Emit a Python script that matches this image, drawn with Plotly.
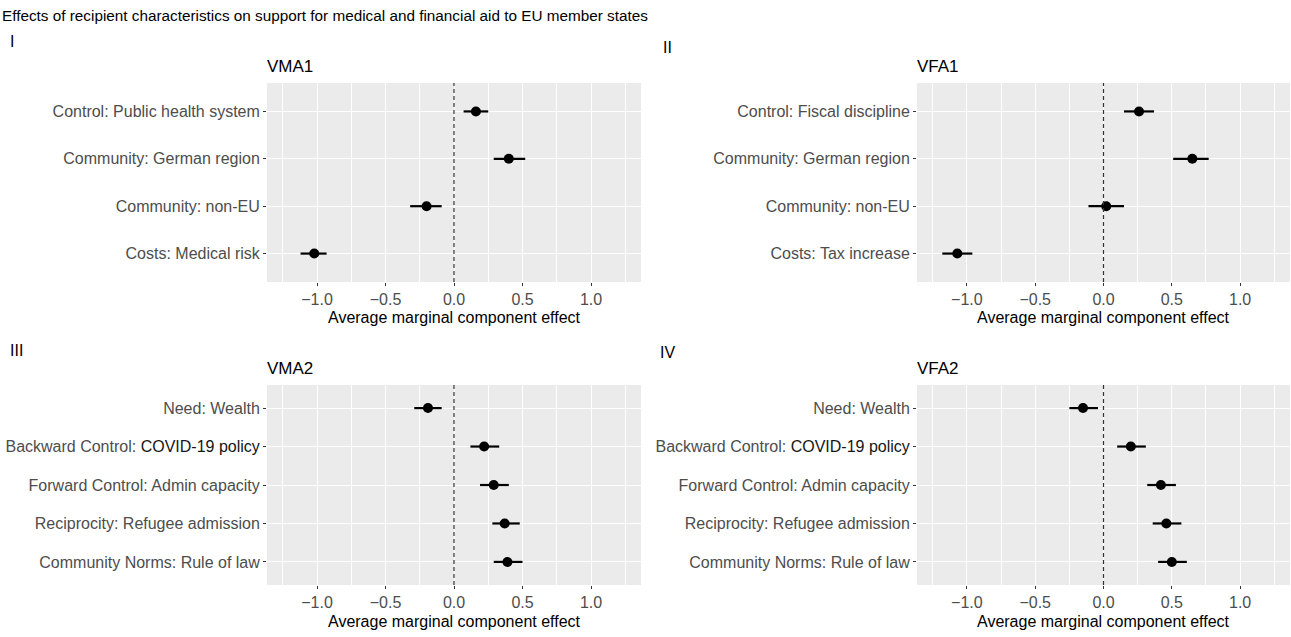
import plotly.graph_objects as go

# ---------------- data ----------------
title_text = "Effects of recipient characteristics on support for medical and financial aid to EU member states"

p1_labels = ["Control: Public health system", "Community: German region", "Community: non-EU", "Costs: Medical risk"]
p1_est = [0.16, 0.40, -0.20, -1.02]
p1_lo = [0.07, 0.29, -0.32, -1.12]
p1_hi = [0.25, 0.52, -0.09, -0.93]

p2_labels = ["Control: Fiscal discipline", "Community: German region", "Community: non-EU", "Costs: Tax increase"]
p2_est = [0.26, 0.65, 0.02, -1.07]
p2_lo = [0.15, 0.51, -0.11, -1.18]
p2_hi = [0.37, 0.77, 0.15, -0.96]

p3_labels = ["Need: Wealth", "Backward Control: COVID-19 policy", "Forward Control: Admin capacity",
             "Reciprocity: Refugee admission", "Community Norms: Rule of law"]
p3_est = [-0.19, 0.22, 0.29, 0.37, 0.39]
p3_lo = [-0.29, 0.12, 0.19, 0.28, 0.29]
p3_hi = [-0.09, 0.33, 0.40, 0.48, 0.50]

p4_labels = ["Need: Wealth", "Backward Control: COVID-19 policy", "Forward Control: Admin capacity",
             "Reciprocity: Refugee admission", "Community Norms: Rule of law"]
p4_est = [-0.15, 0.20, 0.42, 0.46, 0.50]
p4_lo = [-0.25, 0.10, 0.32, 0.36, 0.40]
p4_hi = [-0.04, 0.31, 0.53, 0.57, 0.61]

panel_titles = ["VMA1", "VFA1", "VMA2", "VFA2"]
panel_numerals = ["I", "II", "III", "IV"]
x_ticks = [-1.0, -0.5, 0.0, 0.5, 1.0]
x_tick_text = ["\u22121.0", "\u22120.5", "0.0", "0.5", "1.0"]
x_minor = [-1.25, -0.75, -0.25, 0.25, 0.75, 1.25]
x_title = "Average marginal component effect"

# ---------------- layout geometry ----------------
W, H = 1291, 637
FONT = "Liberation Sans, Arial, sans-serif"

def px_x(v):
    return v / W

def px_y(v):
    return 1 - v / H

def styled(label):
    # the reference renders "COVID-19 policy" slightly darker
    return label.replace("COVID-19 policy", "<span style='color:#151515'>COVID-19 policy</span>")

panels = [
    dict(labels=p1_labels, est=p1_est, lo=p1_lo, hi=p1_hi, x=(267, 641), y=(83, 282)),
    dict(labels=p2_labels, est=p2_est, lo=p2_lo, hi=p2_hi, x=(917, 1290), y=(83, 282)),
    dict(labels=p3_labels, est=p3_est, lo=p3_lo, hi=p3_hi, x=(267, 641), y=(385, 585)),
    dict(labels=p4_labels, est=p4_est, lo=p4_lo, hi=p4_hi, x=(917, 1290), y=(385, 585)),
]

fig = go.Figure()
annotations = []
shapes = []
layout_axes = {}

for i, p in enumerate(panels):
    n = i + 1
    xa = "x" if n == 1 else f"x{n}"
    ya = "y" if n == 1 else f"y{n}"
    xkey = "xaxis" if n == 1 else f"xaxis{n}"
    ykey = "yaxis" if n == 1 else f"yaxis{n}"

    plus = [h - e for h, e in zip(p["hi"], p["est"])]
    minus = [e - l for e, l in zip(p["est"], p["lo"])]
    fig.add_trace(go.Scatter(
        x=p["est"], y=p["labels"], mode="markers",
        marker=dict(color="black", size=10),
        error_x=dict(type="data", array=plus, arrayminus=minus, color="black",
                     thickness=2.2, width=0, symmetric=False),
        xaxis=xa, yaxis=ya, showlegend=False,
    ))

    nl = len(p["labels"])
    layout_axes[xkey] = dict(
        domain=[px_x(p["x"][0]), min(1.0, px_x(p["x"][1]))],
        anchor=ya, range=[-1.365, 1.365], automargin=False,
        tickmode="array", tickvals=x_ticks, ticktext=x_tick_text,
        ticks="outside", ticklen=3, tickcolor="#333333", tickwidth=1,
        tickfont=dict(family=FONT, size=16, color="#4D4D4D"),
        showgrid=True, gridcolor="white", gridwidth=1.1,
        minor=dict(tickmode="array", tickvals=x_minor, showgrid=True,
                   gridcolor="white", gridwidth=0.5, ticklen=0),
        zeroline=False, showline=False,
    )
    layout_axes[ykey] = dict(
        domain=[px_y(p["y"][1]), px_y(p["y"][0])],
        anchor=xa, type="category", automargin=False,
        categoryorder="array", categoryarray=p["labels"],
        tickmode="array", tickvals=p["labels"], ticktext=[styled(s) for s in p["labels"]],
        range=[nl - 1 + 0.6, -0.6],
        ticks="outside", ticklen=3, tickcolor="#333333", tickwidth=1,
        tickfont=dict(family=FONT, size=16, color="#4D4D4D"),
        showgrid=True, gridcolor="white", gridwidth=1.1,
        zeroline=False, showline=False,
    )

    # dashed reference line at 0
    shapes.append(dict(type="line", xref=xa, yref=f"{ya} domain", x0=0, x1=0, y0=0, y1=1,
                       line=dict(color="#333333", width=1.2, dash="4px,3px"), layer="above"))

    # panel titles
    annotations.append(dict(text=panel_titles[i], xref="paper", yref="paper",
                            x=px_x(p["x"][0] - 2), y=px_y(p["y"][0] - 17), xanchor="left", yanchor="middle",
                            showarrow=False, font=dict(family=FONT, size=17, color="black")))
    # axis titles
    annotations.append(dict(text=x_title, xref="paper", yref="paper",
                            x=px_x((p["x"][0] + p["x"][1]) / 2), y=px_y(p["y"][1] + 36),
                            xanchor="center", yanchor="middle",
                            showarrow=False, font=dict(family=FONT, size=16, color="black")))

# roman numerals
numeral_pos = [(8, 42), (661, 47), (8, 350), (658, 352)]
for t, (xx, yy) in zip(panel_numerals, numeral_pos):
    annotations.append(dict(text=t, xref="paper", yref="paper", x=px_x(xx), y=px_y(yy),
                            xanchor="left", yanchor="middle", showarrow=False,
                            font=dict(family=FONT, size=16, color="black")))

# main title
annotations.append(dict(text=title_text, xref="paper", yref="paper", x=px_x(0), y=px_y(15),
                        xanchor="left", yanchor="middle", showarrow=False,
                        font=dict(family=FONT, size=15.3, color="black")))

fig.update_layout(
    width=W, height=H,
    margin=dict(l=0, r=0, t=0, b=0),
    paper_bgcolor="white", plot_bgcolor="#EBEBEB",
    annotations=annotations, shapes=shapes,
    font=dict(family=FONT),
    **layout_axes,
)

fig.write_html("out.html", config={"displayModeBar": False},
               post_script="document.body.style.margin='0';")
